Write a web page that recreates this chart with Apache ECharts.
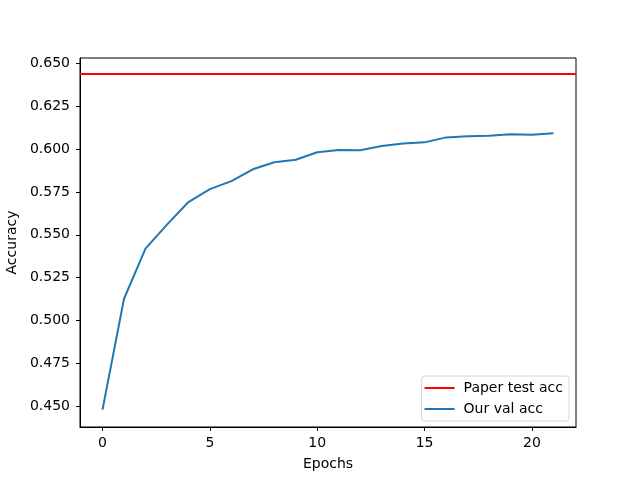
<!DOCTYPE html>
<html>
<head>
<meta charset="utf-8">
<script src="https://cdn.jsdelivr.net/npm/echarts@6/dist/echarts.min.js"></script>
<style>
  html, body { margin: 0; padding: 0; background: #fff; }
  #chart { width: 640px; height: 480px; }
</style>
</head>
<body>
<div id="chart"></div>
<script>
// epochs and validation accuracy
const epochs = [0, 1, 2, 3, 4, 5, 6, 7, 8, 9, 10, 11, 12, 13, 14, 15, 16, 17, 18, 19, 20, 21];
const valAcc = [0.4480, 0.5127, 0.5419, 0.5559, 0.5691, 0.5766, 0.5813, 0.5882, 0.5923, 0.5938,
  0.5981, 0.5994, 0.5993, 0.6018, 0.6033, 0.6039, 0.6068, 0.6074, 0.6078, 0.6086, 0.6083, 0.6092];
const paperAcc = 0.6437;
const xTicks = [0, 5, 10, 15, 20];
const yTicks = [0.450, 0.475, 0.500, 0.525, 0.550, 0.575, 0.600, 0.625, 0.650];

const xMin = -1.05, xMax = 22.05;
const yMin = 0.4379, yMax = 0.6531;
const font = 'DejaVu Sans';
const lineIcon = 'path://M0,0 L30,0 L30,2 L0,2 Z';

let chart = echarts.init(document.getElementById('chart'), null, { renderer: 'canvas' });
chart.setOption({
  animation: false,
  backgroundColor: '#fff',
  grid: {
    left: 80, right: 64, top: 58, bottom: 53,
    outerBoundsMode: 'none', containLabel: false,
    show: true, borderColor: '#000', borderWidth: 1, backgroundColor: 'transparent'
  },
  legend: {
    right: 71, bottom: 59,
    orient: 'vertical',
    itemWidth: 30, itemHeight: 14, itemGap: 7,
    padding: [5, 6, 5, 3],
    borderColor: '#d6d6d6', borderWidth: 1, borderRadius: 3,
    backgroundColor: 'rgba(255,255,255,0.8)',
    textStyle: { fontFamily: font, fontSize: 14, color: '#000', padding: [0, 0, 0, 4] },
    data: [
      { name: 'Paper test acc', icon: lineIcon },
      { name: 'Our val acc', icon: lineIcon }
    ]
  },
  xAxis: {
    type: 'value', min: xMin, max: xMax,
    name: 'Epochs', nameLocation: 'middle', nameGap: 30,
    nameTextStyle: { fontFamily: font, fontSize: 14, color: '#000' },
    axisLine: { show: true, onZero: false, lineStyle: { color: '#000', width: 1 } },
    axisTick: { show: true, customValues: xTicks, length: 4, lineStyle: { color: '#000', width: 1 } },
    axisLabel: {
      show: true, customValues: xTicks, margin: 9,
      fontFamily: font, fontSize: 14, color: '#000'
    },
    splitLine: { show: false }
  },
  yAxis: {
    type: 'value', min: yMin, max: yMax,
    name: 'Accuracy', nameLocation: 'middle', nameGap: 51, nameRotate: 90,
    nameTextStyle: { fontFamily: font, fontSize: 14, color: '#000' },
    axisLine: { show: true, onZero: false, lineStyle: { color: '#000', width: 1 } },
    axisTick: { show: true, customValues: yTicks, length: 4, lineStyle: { color: '#000', width: 1 } },
    axisLabel: {
      show: true, customValues: yTicks, margin: 10,
      fontFamily: font, fontSize: 14, color: '#000',
      formatter: v => v.toFixed(3)
    },
    splitLine: { show: false }
  },
  series: [
    {
      name: 'Paper test acc', type: 'line', symbol: 'none',
      data: [[xMin, paperAcc], [xMax, paperAcc]],
      lineStyle: { color: '#ff0000', width: 2 }, itemStyle: { color: '#ff0000' }
    },
    {
      name: 'Our val acc', type: 'line', symbol: 'none',
      data: epochs.map((e, i) => [e, valAcc[i]]),
      lineStyle: { color: '#1f77b4', width: 2 }, itemStyle: { color: '#1f77b4' }
    }
  ]
});
</script>
</body>
</html>
